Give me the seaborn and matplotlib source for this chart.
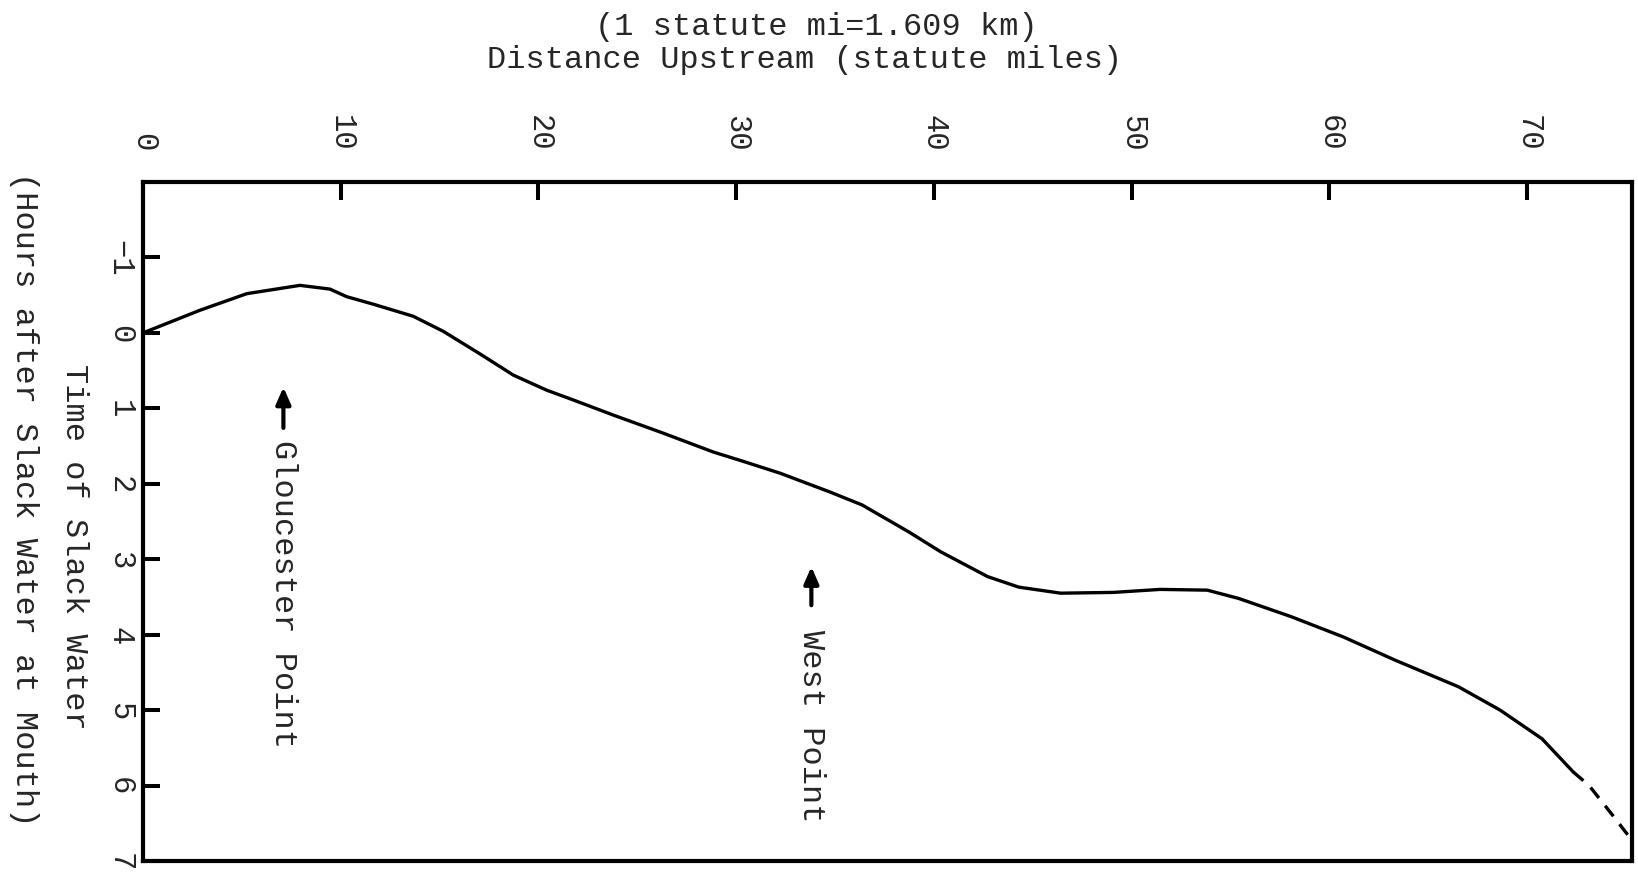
import numpy as np
import pandas as pd
import matplotlib
matplotlib.use("Agg")
import matplotlib.pyplot as plt
import seaborn as sns

# distance upstream (statute miles) and time of slack water (hours after slack at mouth)
miles = [0.0, 2.88, 5.25, 7.94, 9.46, 10.30, 11.65, 13.67, 15.19, 17.05, 18.73,
         20.42, 21.77, 23.79, 26.32, 28.85, 30.20, 32.22, 34.75, 36.36, 38.74,
         40.33, 42.71, 44.29, 46.41, 49.06, 51.44, 53.82, 55.41, 58.05, 60.70,
         63.34, 66.52, 68.63, 70.75, 72.33]
hours = [0.0, -0.30, -0.52, -0.63, -0.58, -0.48, -0.38, -0.22, -0.02, 0.28, 0.56,
         0.76, 0.89, 1.09, 1.33, 1.58, 1.69, 1.86, 2.11, 2.28, 2.64,
         2.90, 3.23, 3.37, 3.45, 3.44, 3.40, 3.41, 3.52, 3.76, 4.03,
         4.34, 4.69, 5.00, 5.38, 5.82]
# dashed (extrapolated) end of the curve
miles_ext = [72.33, 73.13, 74.46, 75.25]
hours_ext = [5.82, 6.00, 6.44, 6.71]

x_ticks = [0, 10, 20, 30, 40, 50, 60, 70]
y_ticks = [-1, 0, 1, 2, 3, 4, 5, 6, 7]

places = ["Gloucester Point", "West Point"]
place_miles = [7.1, 33.8]
arrow_head = [0.72, 3.10]
arrow_tail = [1.26, 3.61]
label_start = [1.40, 3.92]

sns.set_theme(style="white")
plt.rcParams["font.family"] = ["Liberation Mono", "DejaVu Sans Mono"]

fig = plt.figure(figsize=(16.38, 8.79), dpi=100)
ax = fig.add_axes([143 / 1638, 17 / 879, 1489 / 1638, 679 / 879])

curve = pd.DataFrame({"miles": miles, "hours": hours})
ext = pd.DataFrame({"miles": miles_ext, "hours": hours_ext})
sns.lineplot(data=curve, x="miles", y="hours", sort=False, estimator=None,
             color="black", lw=2.4, ax=ax)
sns.lineplot(data=ext, x="miles", y="hours", sort=False, estimator=None,
             color="black", lw=2.4, linestyle=(0, (4, 3)), ax=ax)

ax.set_xlim(0, 75.3)
ax.set_ylim(7, -2)
ax.set_xticks(x_ticks)
ax.set_yticks(y_ticks)
ax.set_xlabel("")
ax.set_ylabel("")
ax.grid(False)

for s in ax.spines.values():
    s.set_visible(True)
    s.set_linewidth(3)
    s.set_color("black")

ax.tick_params(axis="x", top=True, bottom=False, labeltop=True, labelbottom=False,
               direction="in", length=13, width=2.9, pad=23, labelsize=22,
               labelrotation=-90, color="black")
ax.tick_params(axis="y", left=True, right=False, direction="in", length=12,
               width=2.9, pad=6, labelsize=22, labelrotation=-90, color="black")
plt.setp(ax.get_yticklabels(), va="center", ha="right")
plt.setp(ax.get_xticklabels(), ha="center", va="bottom")

for name, xm, yh, yt, ys in zip(places, place_miles, arrow_head, arrow_tail, label_start):
    ax.annotate("", xy=(xm, yh), xytext=(xm, yt),
                arrowprops=dict(arrowstyle="-|>,head_length=0.5,head_width=0.22",
                                lw=3, color="black", shrinkA=0, shrinkB=0,
                                mutation_scale=20))
    ax.text(xm, ys, name, rotation=-90, ha="center", va="top", fontsize=23)

fig.text(816 / 1638, 1 - 35 / 879, "(1 statute mi=1.609 km)", ha="center",
         va="baseline", fontsize=23)
fig.text(805 / 1638, 1 - 68 / 879, "Distance Upstream (statute miles)", ha="center",
         va="baseline", fontsize=23)
fig.text(74 / 1638, 1 - 547 / 879, "Time of Slack Water", rotation=-90,
         ha="center", va="center", fontsize=23)
fig.text(24 / 1638, 1 - 499 / 879, "(Hours after Slack Water at Mouth)", rotation=-90,
         ha="center", va="center", fontsize=23)

fig.savefig("out.png", dpi=100)
